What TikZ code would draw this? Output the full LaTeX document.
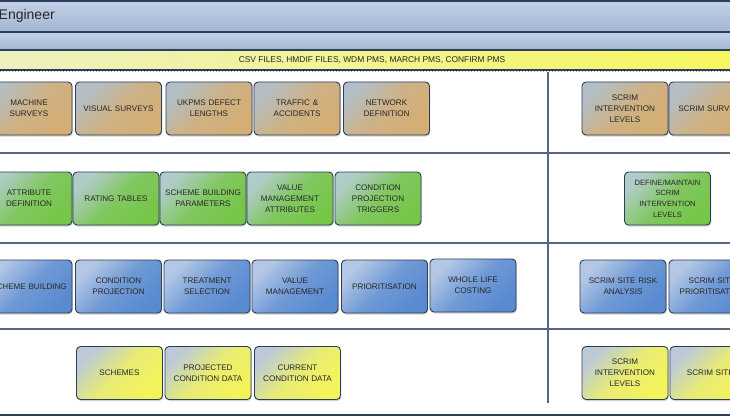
\documentclass[tikz,border=0pt]{standalone}
\usepackage{fontspec}
\setmainfont{Liberation Sans}
\usetikzlibrary{shadows}
\definecolor{navy}{HTML}{2C3E5A}
\definecolor{sepline}{HTML}{56667E}
\definecolor{tanA}{HTML}{B4BEC6}\definecolor{tanB}{HTML}{D4AE74}
\definecolor{grnA}{HTML}{B0CCC8}\definecolor{grnB}{HTML}{76C648}
\definecolor{bluA}{HTML}{B4C8E6}\definecolor{bluB}{HTML}{588AD0}
\definecolor{ylwA}{HTML}{BCCAD8}\definecolor{ylwB}{HTML}{F4F45A}
\definecolor{hdrA}{HTML}{C2D1E7}\definecolor{hdrB}{HTML}{A2B6D2}
\definecolor{barA}{HTML}{EEF0C0}\definecolor{barB}{HTML}{F6F660}
\tikzset{
  box/.style={draw=navy, line width=0.9pt, rounded corners=4pt,
    minimum width=86pt, minimum height=53pt, text width=86pt, inner sep=0pt,
    align=center, font=\fontsize{8.1}{10.8}\selectfont, text=black!85,
    drop shadow={shadow xshift=0.8pt, shadow yshift=-1.5pt, opacity=0.35, fill=gray}},
  tanbox/.style={box, top color=tanA, bottom color=tanB, middle color=tanB!80!tanA, shading angle=45},
  grnbox/.style={box, top color=grnA, bottom color=grnB, middle color=grnB!80!grnA, shading angle=45},
  blubox/.style={box, top color=bluA, bottom color=bluB, middle color=bluB!75!bluA, shading angle=45},
  ylwbox/.style={box, top color=ylwA, bottom color=ylwB, middle color=ylwB!80!ylwA, shading angle=45},
  sep/.style={draw=sepline, line width=1.1pt},
  band/.style={line width=1.4pt, draw=navy}
}
\begin{document}
\begin{tikzpicture}[x=1pt,y=-1pt]
\useasboundingbox (0,0) rectangle (730,417);
\fill[white] (0,0) rectangle (730,417);
% header bands
\shade[top color=hdrA, bottom color=hdrB] (0,0) rectangle (730,32);
\shade[top color=hdrA, bottom color=hdrB] (0,32) rectangle (730,50);
\shade[left color=barA, right color=barB] (0,50) rectangle (730,70);
\draw[navy, line width=2pt] (0,1) -- (730,1);
\draw[band] (0,32) -- (730,32);
\draw[band] (0,50) -- (730,50);
\draw[band] (0,70) -- (730,70);
\draw[gray!70, dotted, line width=1pt] (0,72) -- (730,72);
\node[anchor=west, inner sep=0pt, font=\fontsize{14}{16}\selectfont, text=black!85] (title) at (-1.5,16) {Engineer};
\node[inner sep=0pt, font=\fontsize{8.4}{9}\selectfont, text=black!85] (sources) at (372,60) {CSV FILES, HMDIF FILES, WDM PMS, MARCH PMS, CONFIRM PMS};
% separators
\draw[sep] (0,153) -- (730,153);
\draw[sep] (0,243) -- (730,243);
\draw[sep] (0,329) -- (730,329);
\draw[sep] (548,72) -- (548,403);
\draw[navy, line width=2.2pt] (0,415) -- (730,415);
% row 1
\node[tanbox] (machine) at (29,108.5) {MACHINE\\SURVEYS};
\node[tanbox] (visual) at (118.5,108.5) {VISUAL SURVEYS};
\node[tanbox] (ukpms) at (209,108.5) {UKPMS DEFECT\\LENGTHS};
\node[tanbox] (traffic) at (297,108.5) {TRAFFIC \&\\ACCIDENTS};
\node[tanbox] (network) at (386.5,108.5) {NETWORK\\DEFINITION};
\node[tanbox] (scrimint) at (625,108.5) {SCRIM\\INTERVENTION\\LEVELS};
\node[tanbox] (scrimsurv) at (712,108.5) {SCRIM SURVEYS};
% row 2
\node[grnbox] (attrdef) at (29,198.5) {ATTRIBUTE\\DEFINITION};
\node[grnbox, minimum width=84pt] (rating) at (116,198.5) {RATING TABLES};
\node[grnbox] (sbparam) at (203,198.5) {SCHEME BUILDING\\PARAMETERS};
\node[grnbox] (vmattr) at (290,198.5) {VALUE\\MANAGEMENT\\ATTRIBUTES};
\node[grnbox] (cptrig) at (378,198.5) {CONDITION\\PROJECTION\\TRIGGERS};
\node[grnbox, font=\fontsize{7.6}{10.6}\selectfont] (define) at (667.5,198.5) {DEFINE/MAINTAIN\\SCRIM\\INTERVENTION\\LEVELS};
% row 3
\node[blubox] (schemeb) at (29,286.5) {SCHEME BUILDING};
\node[blubox] (condproj) at (118.5,286.5) {CONDITION\\PROJECTION};
\node[blubox] (treat) at (207,286.5) {TREATMENT\\SELECTION};
\node[blubox] (valman) at (295,286.5) {VALUE\\MANAGEMENT};
\node[blubox] (prior) at (384.5,286.5) {PRIORITISATION};
\node[blubox] (wlc) at (473,285.5) {WHOLE LIFE\\COSTING};
\node[blubox] (risk) at (623,286.5) {SCRIM SITE RISK\\ANALYSIS};
\node[blubox] (sprior) at (712,286.5) {SCRIM SITE\\PRIORITISATION};
% row 4
\node[ylwbox] (schemes) at (119.5,373) {SCHEMES};
\node[ylwbox] (projdata) at (208,373) {PROJECTED\\CONDITION DATA};
\node[ylwbox] (currdata) at (297.5,373) {CURRENT\\CONDITION DATA};
\node[ylwbox] (scrimlev) at (625,373) {SCRIM\\INTERVENTION\\LEVELS};
\node[ylwbox] (scrimsites) at (713,373) {SCRIM SITES};
\end{tikzpicture}
\end{document}
